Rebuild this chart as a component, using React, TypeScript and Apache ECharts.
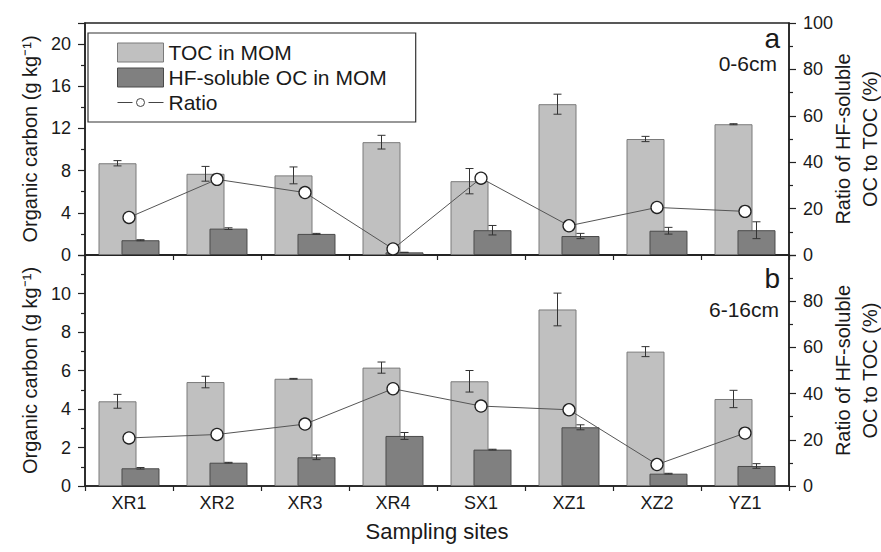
import React, { useEffect, useRef } from 'react';
import * as echarts from 'echarts';

const sites = ['XR1', 'XR2', 'XR3', 'XR4', 'SX1', 'XZ1', 'XZ2', 'YZ1'];

// Panel a (0-6 cm)
const tocTop = [8.7, 7.7, 7.55, 10.7, 7.0, 14.3, 11.0, 12.4];
const tocTopErr = [0.25, 0.7, 0.8, 0.65, 1.2, 0.95, 0.25, 0.05];
const hfTop = [1.4, 2.5, 2.0, 0.25, 2.35, 1.8, 2.3, 2.35];
const hfTopErr = [0.05, 0.08, 0.05, 0.0, 0.45, 0.25, 0.32, 0.8];
const ratioTop = [16.2, 32.6, 26.9, 2.6, 33.1, 12.6, 20.5, 18.8];

// Panel b (6-16 cm)
const tocBottom = [4.4, 5.4, 5.57, 6.15, 5.44, 9.17, 6.98, 4.52];
const tocBottomErr = [0.36, 0.3, 0.02, 0.29, 0.56, 0.85, 0.26, 0.45];
const hfBottom = [0.92, 1.21, 1.49, 2.6, 1.89, 3.05, 0.64, 1.04];
const hfBottomErr = [0.04, 0.02, 0.12, 0.18, 0.02, 0.13, 0.02, 0.12];
const ratioBottom = [20.8, 22.3, 26.8, 42.1, 34.6, 33.0, 9.3, 22.9];

const FONT = "'Liberation Sans', Arial, Helvetica, sans-serif";
const TXT = '#1a1a1a';
const AX = '#222';
const BAR_W = 38;
const BAR_GAP = -0.395;
const OFFSET = (BAR_W * (1 + BAR_GAP)) / 2;

function errorSeries(name: string, gi: number, yi: number, vals: number[], errs: number[], side: number) {
  return {
    type: 'custom',
    name,
    xAxisIndex: gi,
    yAxisIndex: yi,
    z: 6,
    silent: true,
    data: vals.map((v, i) => [i, v, errs[i]]),
    encode: { x: 0, y: 1 },
    renderItem: (_p: any, api: any) => {
      const i = api.value(0);
      const v = api.value(1);
      const e = api.value(2);
      const hi = api.coord([i, v + e]);
      const lo = api.coord([i, v - e]);
      const x = hi[0] + side * OFFSET;
      const cap = 4;
      const style = { stroke: '#333', lineWidth: 1 };
      return {
        type: 'group',
        children: [
          { type: 'line', shape: { x1: x, y1: hi[1], x2: x, y2: lo[1] }, style },
          { type: 'line', shape: { x1: x - cap, y1: hi[1], x2: x + cap, y2: hi[1] }, style },
          { type: 'line', shape: { x1: x - cap, y1: lo[1], x2: x + cap, y2: lo[1] }, style },
        ],
      };
    },
  };
}

function valueAxis(gi: number, pos: string, max: number, interval: number, showMax: boolean, name: string) {
  return {
    type: 'value',
    gridIndex: gi,
    position: pos,
    min: 0,
    max,
    interval,
    name,
    nameLocation: 'middle',
    nameRotate: 90,
    nameGap: pos === 'left' ? 42 : 40,
    nameMoveOverlap: false,
    nameTextStyle: { fontSize: 20, color: TXT, fontFamily: FONT, lineHeight: 27 },
    axisLine: { show: true, lineStyle: { color: AX, width: 1.5 } },
    axisTick: { show: true, inside: false, length: 7, lineStyle: { color: AX, width: 1.2 } },
    minorTick: { show: true, splitNumber: 2, length: 4, lineStyle: { color: AX, width: 1.2 } },
    splitLine: { show: false },
    axisLabel: { fontSize: 18, color: TXT, fontFamily: FONT, margin: 14, showMaxLabel: showMax },
  };
}

function catAxis(gi: number, showLabel: boolean) {
  return {
    type: 'category',
    gridIndex: gi,
    data: sites,
    axisLine: { show: true, lineStyle: { color: AX, width: 1.5 } },
    axisTick: { show: true, length: 5, lineStyle: { color: AX, width: 1.2 } },
    axisLabel: { show: showLabel, fontSize: 18, color: TXT, fontFamily: FONT, margin: 8 },
    splitLine: { show: false },
    name: showLabel ? 'Sampling sites' : '',
    nameLocation: 'middle',
    nameGap: 34,
    nameMoveOverlap: false,
    nameTextStyle: { fontSize: 22, color: TXT, fontFamily: FONT },
  };
}

const tocStyle = { color: '#c0c0c0', borderColor: '#7a7a7a', borderWidth: 1 };
const hfStyle = { color: '#808080', borderColor: '#4a4a4a', borderWidth: 1 };
const ratioItem = { color: '#fff', borderColor: '#222', borderWidth: 1.3 };

function barSeries(name: string, gi: number, yi: number, vals: number[], style: any) {
  return {
    type: 'bar',
    name,
    xAxisIndex: gi,
    yAxisIndex: yi,
    data: vals,
    barWidth: BAR_W,
    barGap: `${BAR_GAP * 100}%`,
    itemStyle: style,
    z: 2,
  };
}

function lineSeries(gi: number, yi: number, vals: number[]) {
  return {
    type: 'line',
    name: 'Ratio',
    xAxisIndex: gi,
    yAxisIndex: yi,
    data: vals,
    symbol: 'circle',
    symbolSize: 12,
    itemStyle: ratioItem,
    lineStyle: { color: '#555', width: 1 },
    z: 10,
  };
}

export default function App() {
  const ref = useRef<HTMLDivElement>(null);
  useEffect(() => {
    if (!ref.current) return;
    const chart = echarts.init(ref.current, undefined, { renderer: 'svg' });
    const rightName = 'Ratio of HF-soluble\nOC to TOC (%)';
    const leftName = 'Organic carbon (g kg\u207B\u00B9)';
    chart.setOption({
      animation: false,
      backgroundColor: '#fff',
      textStyle: { fontFamily: FONT },
      grid: [
        { left: 85, top: 23, width: 704, height: 232, show: true, borderColor: AX, borderWidth: 1.5, backgroundColor: 'transparent', outerBoundsMode: 'none', containLabel: false },
        { left: 85, top: 255, width: 704, height: 231, show: true, borderColor: AX, borderWidth: 1.5, backgroundColor: 'transparent', outerBoundsMode: 'none', containLabel: false },
      ],
      xAxis: [catAxis(0, false), catAxis(1, true)],
      yAxis: [
        valueAxis(0, 'left', 22, 4, false, leftName),
        valueAxis(0, 'right', 100, 20, true, rightName),
        valueAxis(1, 'left', 12, 2, false, leftName),
        valueAxis(1, 'right', 100, 20, false, rightName),
      ],
      legend: {
        orient: 'vertical',
        left: 88,
        top: 33,
        padding: [9, 29, 9, 29],
        itemGap: 4,
        itemWidth: 46,
        itemHeight: 19,
        borderColor: '#333',
        borderWidth: 1.2,
        selectedMode: false,
        itemStyle: { borderWidth: 1 },
        textStyle: { fontSize: 21, color: TXT, fontFamily: FONT },
        data: [
          { name: 'TOC in MOM', icon: 'rect' },
          { name: 'HF-soluble OC in MOM', icon: 'rect' },
          {
            name: 'Ratio',
            icon: 'path://M0,4H15M31,4H46M27,4A4,4,0,1,1,19,4A4,4,0,1,1,27,4Z',
            itemStyle: { color: '#fff', borderColor: '#444', borderWidth: 1 },
          },
        ],
      },
      graphic: [
        { type: 'text', right: 881 - 780, top: 24, style: { text: 'a', fontSize: 28, fill: TXT, fontFamily: FONT } },
        { type: 'text', right: 881 - 777, top: 53, style: { text: '0-6cm', fontSize: 21, fill: TXT, fontFamily: FONT } },
        { type: 'text', right: 881 - 780, top: 264, style: { text: 'b', fontSize: 28, fill: TXT, fontFamily: FONT } },
        { type: 'text', right: 881 - 779, top: 299, style: { text: '6-16cm', fontSize: 21, fill: TXT, fontFamily: FONT } },
      ],
      series: [
        barSeries('TOC in MOM', 0, 0, tocTop, tocStyle),
        barSeries('HF-soluble OC in MOM', 0, 0, hfTop, hfStyle),
        errorSeries('TOC err a', 0, 0, tocTop, tocTopErr, -1),
        errorSeries('HF err a', 0, 0, hfTop, hfTopErr, 1),
        lineSeries(0, 1, ratioTop),
        barSeries('TOC in MOM', 1, 2, tocBottom, tocStyle),
        barSeries('HF-soluble OC in MOM', 1, 2, hfBottom, hfStyle),
        errorSeries('TOC err b', 1, 2, tocBottom, tocBottomErr, -1),
        errorSeries('HF err b', 1, 2, hfBottom, hfBottomErr, 1),
        lineSeries(1, 3, ratioBottom),
      ],
    });
    return () => chart.dispose();
  }, []);
  return (
    <div
      ref={ref}
      style={{ position: 'fixed', left: 0, top: 0, width: 881, height: 552, background: '#fff' }}
    />
  );
}
